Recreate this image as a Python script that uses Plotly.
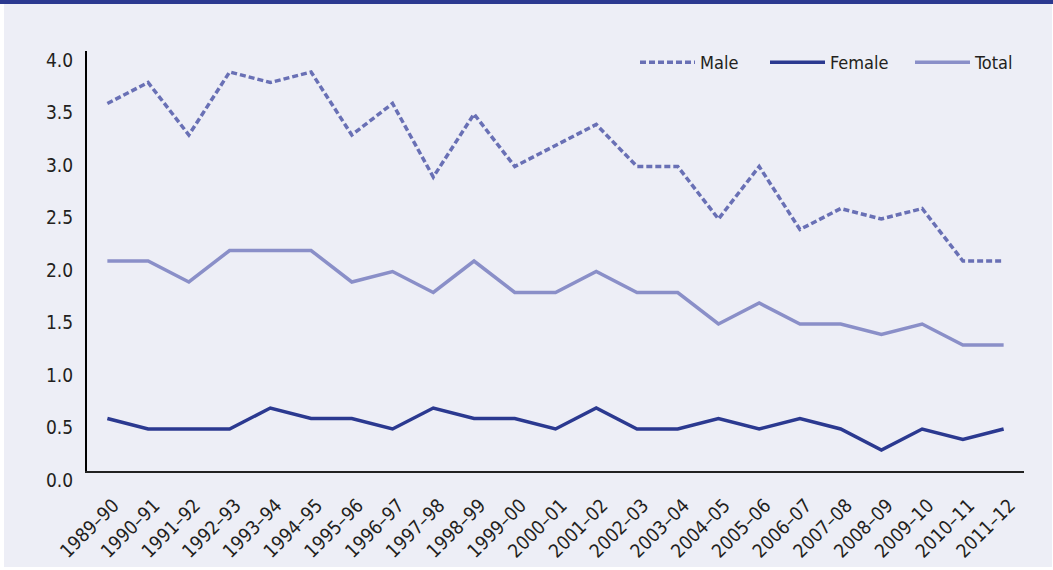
import plotly.graph_objects as go

years = ["1989–90", "1990–91", "1991–92", "1992–93", "1993–94", "1994–95", "1995–96",
         "1996–97", "1997–98", "1998–99", "1999–00", "2000–01", "2001–02", "2002–03",
         "2003–04", "2004–05", "2005–06", "2006–07", "2007–08", "2008–09", "2009–10",
         "2010–11", "2011–12"]
male = [3.5, 3.7, 3.2, 3.8, 3.7, 3.8, 3.2, 3.5, 2.8, 3.4, 2.9, 3.1, 3.3, 2.9, 2.9,
        2.4, 2.9, 2.3, 2.5, 2.4, 2.5, 2.0, 2.0]
female = [0.5, 0.4, 0.4, 0.4, 0.6, 0.5, 0.5, 0.4, 0.6, 0.5, 0.5, 0.4, 0.6, 0.4, 0.4,
          0.5, 0.4, 0.5, 0.4, 0.2, 0.4, 0.3, 0.4]
total = [2.0, 2.0, 1.8, 2.1, 2.1, 2.1, 1.8, 1.9, 1.7, 2.0, 1.7, 1.7, 1.9, 1.7, 1.7,
         1.4, 1.6, 1.4, 1.4, 1.3, 1.4, 1.2, 1.2]

FONT = "DejaVu Sans Condensed, Liberation Sans, sans-serif"
BG = "#edeef6"
DARK = "#2b3990"

fig = go.Figure()
fig.add_trace(go.Scatter(x=years, y=male, name="Male", mode="lines", legend="legend",
                         line=dict(color="#6970b5", width=3.5, dash="6px,3px")))
fig.add_trace(go.Scatter(x=years, y=female, name="Female", mode="lines", legend="legend2",
                         line=dict(color=DARK, width=3.5)))
fig.add_trace(go.Scatter(x=years, y=total, name="Total", mode="lines", legend="legend3",
                         line=dict(color="#8a8fc8", width=3.5)))

# page background and top band (plot area spans 87..1024 x 51..471 px)
W, H = 937, 420
def px_x(p):
    return (p - 87) / W
def px_y(p):
    return (471 - p) / H

fig.add_shape(type="rect", xref="paper", yref="paper", layer="below",
              x0=px_x(4), x1=px_x(1052), y0=px_y(567), y1=px_y(4),
              fillcolor=BG, line_width=0)
fig.add_shape(type="rect", xref="paper", yref="paper", layer="below",
              x0=px_x(0), x1=px_x(1053), y0=px_y(4), y1=px_y(0),
              fillcolor=DARK, line_width=0)

def leg(left):
    return dict(orientation="h", x=px_x(left), xanchor="left", y=px_y(51) + 7 / H,
                yanchor="top", bgcolor="rgba(0,0,0,0)", font=dict(size=18),
                itemwidth=55)

fig.update_layout(
    width=1053, height=570, autosize=False,
    margin=dict(l=87, r=29, t=51, b=99),
    paper_bgcolor="white", plot_bgcolor=BG,
    font=dict(family=FONT, color="#231f20"),
    showlegend=True,
    legend=leg(635), legend2=leg(765), legend3=leg(910),
    xaxis=dict(range=[-0.5, 22.5], showgrid=False, tickangle=-45,
               tickfont=dict(size=19), showline=True, linecolor="#222",
               linewidth=1.5, ticks="", ticklabelstandoff=14, ticklabelshift=6,
               automargin=False),
    yaxis=dict(range=[0, 4], dtick=0.5, tickformat=".1f", showgrid=False,
               zeroline=False, showline=True, linecolor="black", linewidth=2,
               tickfont=dict(size=19), ticks="", ticklabelshift=9,
               ticklabelstandoff=8, automargin=False),
)

post = """
document.body.style.margin = '0';
document.body.style.overflow = 'hidden';
"""

fig.write_html("out.html",
               config={"displayModeBar": False, "responsive": False},
               post_script=post)
